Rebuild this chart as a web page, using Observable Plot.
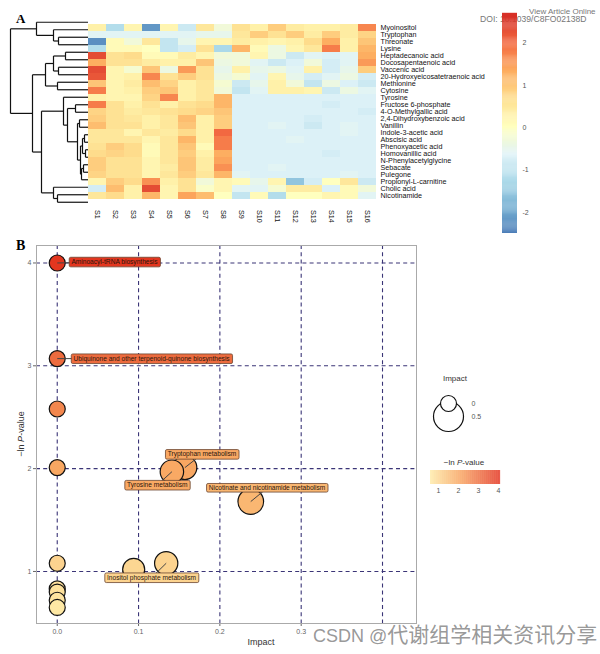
<!DOCTYPE html>
<html><head><meta charset="utf-8">
<script src="https://cdn.jsdelivr.net/npm/d3@7"></script>
<script src="https://cdn.jsdelivr.net/npm/@observablehq/plot@0.6"></script>
<style>
body{margin:0;background:#fff;}
#root{position:relative;width:600px;height:654px;overflow:hidden;background:#fff;font-family:"Liberation Sans",Arial,sans-serif;}
</style></head><body><div id="root"></div>
<script>
// ---------- Panel A data ----------
const samples = ["S1","S2","S3","S4","S5","S6","S7","S8","S9","S10","S11","S12","S13","S14","S15","S16"];
const metabolites = ["Myoinositol","Tryptophan","Threonate","Lysine","Heptadecanoic acid","Docosapentaenoic acid","Vaccenic acid","20-Hydroxyeicosatetraenoic acid","Methionine","Cytosine","Tyrosine","Fructose 6-phosphate","4-O-Methylgallic acid","2,4-Dihydroxybenzoic acid","Vanillin","Indole-3-acetic acid","Abscisic acid","Phenoxyacetic acid","Homovanillic acid","N-Phenylacetylglycine","Sebacate","Pulegone","Propionyl-L-carnitine","Cholic acid","Nicotinamide"];
const values = [
 [0.3,-1.2,0.2,-2.2,0.2,-0.9,0.5,-0.3,0.6,0.3,0.9,0.4,0.3,0.3,0.4,1.7],
 [-0.6,-0.6,-0.6,-0.6,-0.6,-0.6,-0.5,-0.5,0.5,0.9,0.6,0.9,0.4,0.9,0.4,0.8],
 [-2.3,0.1,-0.3,0.5,-1.0,-0.5,0.2,0.2,0.4,0.3,0.2,0.3,0.7,1.3,0.3,1.0],
 [-1.2,0.1,0.1,0.0,-1.0,-0.8,0.6,-1.3,1.2,0.1,-0.4,0.2,0.5,1.8,0.3,1.2],
 [2.3,0.6,0.7,0.1,0.1,0.4,0.2,-0.3,-0.3,0.2,-0.4,-0.9,-0.6,-0.7,-0.6,1.3],
 [1.3,0.6,0.6,0.4,0.3,0.3,1.0,-0.4,-0.3,-0.6,-0.9,-0.7,-0.3,-0.8,-0.6,1.5],
 [2.3,0.2,-0.2,1.0,-0.4,1.5,0.6,-0.5,0.3,-0.5,-0.4,-0.6,0.3,-0.8,-0.5,0.9],
 [2.2,0.2,0.3,1.7,0.6,0.9,0.6,-0.4,-0.2,-0.6,0.2,-0.5,-0.8,-0.6,-0.4,-0.8],
 [1.0,0.2,0.4,1.1,0.8,0.3,0.5,-0.2,-0.9,-0.5,0.3,-0.3,-1.0,-0.4,-0.7,-0.9],
 [1.8,0.2,0.3,0.9,1.0,0.3,0.5,-0.3,-1.0,-0.6,0.3,0.3,0.2,-0.9,-0.4,-0.6],
 [0.3,0.2,0.2,0.8,1.7,0.3,0.5,1.2,-0.7,-0.7,-0.7,-0.7,-0.7,-0.7,-0.7,-0.7],
 [1.8,0.6,0.3,0.6,0.3,0.6,0.7,1.2,-0.7,-0.7,-0.7,-0.7,-0.7,-0.8,-0.7,-0.7],
 [0.8,0.6,0.4,0.5,0.6,0.7,0.8,1.0,-0.7,-0.7,-0.7,-0.7,-0.7,-0.7,-0.7,-0.8],
 [0.9,0.6,0.5,0.3,0.5,1.1,0.3,0.9,-0.7,-0.7,-0.7,-0.7,-0.8,-0.7,-0.7,-0.7],
 [1.1,0.6,0.6,0.3,0.5,1.0,0.3,0.9,-0.7,-0.7,-0.6,-0.7,-0.9,-0.7,-0.6,-0.7],
 [0.5,0.5,0.2,0.5,0.4,0.7,0.3,2.0,-0.7,-0.7,-0.7,-0.7,-0.7,-0.7,-0.6,-0.7],
 [0.5,0.5,0.5,0.2,0.5,1.2,0.3,1.8,-0.7,-0.7,-0.7,-0.6,-0.7,-0.7,-0.7,-0.7],
 [0.6,0.9,0.7,0.1,0.5,1.0,0.1,1.8,-0.7,-0.7,-0.7,-0.7,-0.7,-0.7,-0.7,-0.7],
 [0.7,0.8,0.7,0.1,0.5,0.9,0.3,1.3,-0.7,-0.7,-0.7,-0.7,-0.7,-0.8,-0.7,-0.7],
 [0.9,0.6,0.6,0.2,0.5,1.0,0.4,1.4,-0.7,-0.7,-0.7,-0.7,-0.7,-0.7,-0.7,-0.7],
 [0.9,0.6,0.6,0.2,0.4,1.0,0.4,1.6,-0.7,-0.7,-0.6,-0.7,-0.7,-0.7,-0.7,-0.7],
 [0.8,0.6,0.6,0.2,0.5,0.9,0.5,1.2,-0.6,-0.7,-0.7,-0.7,-0.7,-0.7,-0.6,-0.7],
 [0.2,0.9,0.7,1.6,0.3,0.6,-0.3,0.2,0.1,-0.5,0.2,-1.6,-0.8,0.0,0.5,-0.9],
 [-0.8,1.1,0.3,2.3,0.2,0.6,-0.1,0.2,-0.6,-0.6,-0.2,0.4,0.4,-0.7,0.1,-0.3],
 [0.5,0.7,0.3,1.2,0.2,1.4,1.1,0.0,-1.0,0.1,-1.2,0.0,0.0,0.2,0.1,-0.6]
];
// dendrogram: [height, left, right]; leaves are row indices
const tree = [78,
  [52, 0, [35, 1, [30, 2, 3]]],
  [56,
    [43, [35, [23, 4, 5], [30, 6, 7]], [31, 8, 9]],
    [47,
      [25, 10, [21, [13, 11, 12], [11, [9, 13, 14], [8, [6, [4, 15, 16], [3, 17, 18]], [7, [5, 19, 20], 21]]]]],
      [35, 22, [31, 23, 24]]]]];
const colorbarTicks = [-2, -1, 0, 1, 2];

// ---------- Panel B data ----------
const impact = [0, 0, 0, 0, 0.157, 0.141, 0.238, 0, 0.094, 0.134, 0, 0, 0, 0];
const lnP    = [4.00, 3.07, 2.58, 2.01, 2.01, 1.97, 1.68, 1.08, 1.02, 1.08, 0.83, 0.80, 0.72, 0.65];
const labelNames = ["Aminoacyl-tRNA biosynthesis","Ubiquinone and other terpenoid-quinone biosynthesis","Tryptophan metabolism","Tyrosine metabolism","Nicotinate and nicotinamide metabolism","Inositol phosphate metabolism"];
const labelPoint = [0, 1, 4, 5, 6, 9];
const labelX = [0.0704, 0.116, 0.178, 0.123, 0.258, 0.116];
const labelY = [4.01, 3.07, 2.14, 1.84, 1.81, 0.94];
const xTicks = [0, 0.1, 0.2, 0.3];
const xGrid = [0, 0.1, 0.2, 0.3, 0.4];
const yTicks = [1, 2, 3, 4];
const sizeLegend = [0, 0.5];
const pLegendTicks = [1, 2, 3, 4];

// ---------- helpers ----------
const root = document.getElementById("root");
const FONT = "Liberation Sans, Arial, sans-serif";
const plain = d => String(d);
function place(el, left, top) {
  el.style.position = "absolute"; el.style.left = left + "px"; el.style.top = top + "px";
  root.appendChild(el); return el;
}
const heatColor = {
  type: "linear",
  domain: [-2.6, -1.95, -1.3, -0.65, 0, 0.65, 1.3, 1.95, 2.6],
  range: ["#4575b4", "#74add1", "#abd9e9", "#e0f3f8", "#ffffbf", "#fee090", "#fdae61", "#f46d43", "#d73027"],
  clamp: true
};
const pColor = {type: "linear", domain: [0.6, 2.1, 4.1], range: ["#feeaa6", "#f8a35e", "#e2301c"]};
const rScale = {type: "sqrt", domain: [0, 0.5], range: [8, 15]};

// ---------- base text layer ----------
const base = d3.create("svg").attr("width", 600).attr("height", 654)
  .style("position", "absolute").style("left", "0px").style("top", "0px");
base.append("text").attr("x", 529).attr("y", 14).attr("font-size", 8).attr("fill", "#777")
  .attr("font-family", FONT).text("View Article Online");
base.append("text").attr("x", 480).attr("y", 22).attr("font-size", 8.6).attr("fill", "#777")
  .attr("font-family", FONT).text("DOI: 10.1039/C8FO02138D");
base.append("text").attr("x", 16).attr("y", 23).attr("font-size", 13).attr("font-weight", "bold")
  .attr("font-family", "Liberation Serif, Times New Roman, serif").text("A");
base.append("text").attr("x", 16).attr("y", 250).attr("font-size", 14).attr("font-weight", "bold")
  .attr("font-family", "Liberation Serif, Times New Roman, serif").text("B");
base.append("text").attr("x", 261).attr("y", 645).attr("font-size", 9).attr("fill", "#333")
  .attr("text-anchor", "middle").attr("font-family", FONT).text("Impact");
const yl = base.append("text").attr("transform", "translate(24,434) rotate(-90)").attr("font-size", 9)
  .attr("fill", "#333").attr("text-anchor", "middle").attr("font-family", FONT);
yl.append("tspan").text("\u2212ln ");
yl.append("tspan").attr("font-style", "italic").text("P");
yl.append("tspan").text("-value");
base.append("text").attr("x", 455).attr("y", 381).attr("font-size", 8).attr("fill", "#333")
  .attr("text-anchor", "middle").attr("font-family", FONT).text("Impact");
const pl = base.append("text").attr("x", 464).attr("y", 465).attr("font-size", 8).attr("fill", "#333")
  .attr("text-anchor", "middle").attr("font-family", FONT);
pl.append("tspan").text("\u2212ln ");
pl.append("tspan").attr("font-style", "italic").text("P");
pl.append("tspan").text("-value");
root.appendChild(base.node());

// ---------- Panel A: heatmap ----------
const cells = [];
metabolites.forEach((m, i) => samples.forEach((s, j) => cells.push({m, s, v: values[i][j]})));
const heat = Plot.plot({
  width: 500, height: 236, marginLeft: 88, marginRight: 124, marginTop: 18, marginBottom: 30.5,
  style: {background: "transparent", fontFamily: FONT, fontSize: "7.2px", color: "#111"},
  x: {domain: samples, padding: 0, axis: "bottom", tickRotate: 90, tickSize: 0, tickPadding: 4, label: null},
  y: {domain: metabolites, padding: 0, axis: "right", tickSize: 0, tickPadding: 4, label: null},
  color: heatColor,
  marks: [Plot.cell(cells, {x: "s", y: "m", fill: "v"})]
});
place(heat, 0, 0);

// ---------- Panel A: dendrogram ----------
const segs = [];
function walk(n) {
  if (typeof n === "number") return {h: 0, y: n};
  const [h, a, b] = n;
  const A = walk(a), B = walk(b);
  segs.push({x1: h, y1: A.y, x2: h, y2: B.y});
  segs.push({x1: h, y1: A.y, x2: A.h, y2: A.y});
  segs.push({x1: h, y1: B.y, x2: B.h, y2: B.y});
  return {h, y: (A.y + B.y) / 2};
}
walk(tree);
const dend = Plot.plot({
  width: 88, height: 236, marginLeft: 10, marginRight: 0, marginTop: 18, marginBottom: 30.5,
  style: {background: "transparent"},
  x: {domain: [78, 0], axis: null},
  y: {domain: [metabolites.length - 0.5, -0.5], axis: null},
  marks: [Plot.link(segs, {x1: "x1", y1: "y1", x2: "x2", y2: "y2", stroke: "#111", strokeWidth: 1.2})]
});
place(dend, 0, 0);

// ---------- Panel A: colour bar ----------
const barVals = d3.range(-2.5, 2.7, 0.025);
const cbar = Plot.plot({
  width: 50, height: 240, marginLeft: 12, marginRight: 23, marginTop: 13, marginBottom: 7,
  style: {background: "transparent", fontFamily: FONT, fontSize: "7px", color: "#555"},
  x: {domain: [0, 1], axis: null},
  y: {domain: [-2.5, 2.7], axis: "right", ticks: colorbarTicks, tickFormat: plain, tickSize: 0, tickPadding: 5, label: null},
  color: heatColor,
  marks: [Plot.rect(barVals, {x1: 0, x2: 1, y1: d => d, y2: d => d + 0.03, fill: d => d})]
});
place(cbar, 490, 0);

// ---------- Panel B: bubble chart ----------
const points = impact.map((d, i) => ({impact: d, lnp: lnP[i]}));
const labels = labelNames.map((name, i) => ({
  name, lx: labelX[i], ly: labelY[i],
  px: impact[labelPoint[i]], py: lnP[labelPoint[i]], lnp: lnP[labelPoint[i]]
}));
const gridStyle = {stroke: "#3b3577", strokeDasharray: "4,3.2", strokeWidth: 1.1};
const plotB = Plot.plot({
  width: 600, height: 419, marginLeft: 36, marginRight: 184, marginTop: 10, marginBottom: 31,
  style: {background: "transparent", fontFamily: FONT, fontSize: "7px", color: "#666"},
  x: {domain: [-0.0255, 0.4418], ticks: xTicks, tickFormat: ".1f", tickSize: 3, tickPadding: 3, label: null},
  y: {domain: [0.494, 4.17], ticks: yTicks, tickFormat: plain, tickSize: 3, tickPadding: 2, label: null},
  r: rScale,
  color: pColor,
  marks: [
    Plot.ruleX(xGrid, gridStyle),
    Plot.ruleY(yTicks, gridStyle),
    Plot.frame({stroke: "#aaa"}),
    Plot.dot(points, {x: "impact", y: "lnp", r: "impact", fill: "lnp", stroke: "#111", strokeWidth: 1.2, fillOpacity: 1}),
    Plot.link(labels, {x1: "px", y1: "py", x2: "lx", y2: "ly", stroke: "#444", strokeWidth: 1}),
    Plot.text(labels, {x: "lx", y: "ly", text: "name", fill: "lnp", fontSize: 6.6})
  ]
});
place(plotB, 0, 235);
// label boxes behind the label texts
{
  const tg = Array.from(plotB.querySelectorAll('g[aria-label="text"]')).pop();
  if (tg) {
    tg.querySelectorAll("text").forEach(t => {
      const bb = t.getBBox();
      const col = t.getAttribute("fill") || "#f8a35e";
      const r = document.createElementNS("http://www.w3.org/2000/svg", "rect");
      r.setAttribute("x", bb.x - 2.2); r.setAttribute("y", bb.y - 0.8);
      r.setAttribute("width", bb.width + 4.4); r.setAttribute("height", bb.height + 1.6);
      r.setAttribute("rx", 1.5);
      if (t.getAttribute("transform")) r.setAttribute("transform", t.getAttribute("transform"));
      r.setAttribute("fill", col); r.setAttribute("stroke", "#6b4530"); r.setAttribute("stroke-width", 0.8);
      tg.insertBefore(r, t);
      t.setAttribute("fill", "#2a160c");
    });
  }
}

// ---------- Panel B legends ----------
const sizeLeg = Plot.plot({
  width: 70, height: 60, marginLeft: 23, marginRight: 0, marginTop: 0, marginBottom: 0,
  style: {background: "transparent", fontFamily: FONT, fontSize: "7px", color: "#555"},
  y: {type: "point", domain: sizeLegend, range: [16, 42], axis: null},
  r: rScale,
  marks: [
    Plot.dot(sizeLegend, {y: d => d, r: d => d, frameAnchor: "left", stroke: "#111", strokeWidth: 1.2, fill: "white"}),
    Plot.text(sizeLegend, {y: d => d, text: d => String(d), frameAnchor: "left", dx: 23, textAnchor: "start", fill: "#555"})
  ]
});
place(sizeLeg, 425, 380);

const rampVals = d3.range(0.6, 4.1, 0.02);
const pLeg = Plot.plot({
  width: 80, height: 34, marginLeft: 5, marginRight: 5, marginTop: 4, marginBottom: 16,
  style: {background: "transparent", fontFamily: FONT, fontSize: "7px", color: "#555"},
  x: {domain: [0.6, 4.1], ticks: pLegendTicks, tickFormat: plain, tickSize: 0, tickPadding: 4, label: null, axis: "bottom"},
  y: {domain: [0, 1], axis: null},
  color: pColor,
  marks: [Plot.rect(rampVals, {x1: d => d, x2: d => d + 0.025, y1: 0, y2: 1, fill: d => d})]
});
place(pLeg, 425, 466);

// ---------- watermark ----------
const wm = d3.create("svg").attr("width", 600).attr("height", 654)
  .style("position", "absolute").style("left", "0px").style("top", "0px");
const wt = wm.append("text").attr("x", 313).attr("y", 642).attr("fill", "#8c8c8c").attr("fill-opacity", 0.9)
  .attr("font-family", "Liberation Sans, Noto Sans CJK SC, sans-serif");
wt.append("tspan").attr("font-size", 18).text("CSDN @");
wt.append("tspan").attr("font-size", 21).attr("font-family", "Noto Sans CJK SC, sans-serif").text("代谢组学相关资讯分享");
root.appendChild(wm.node());
</script></body></html>
